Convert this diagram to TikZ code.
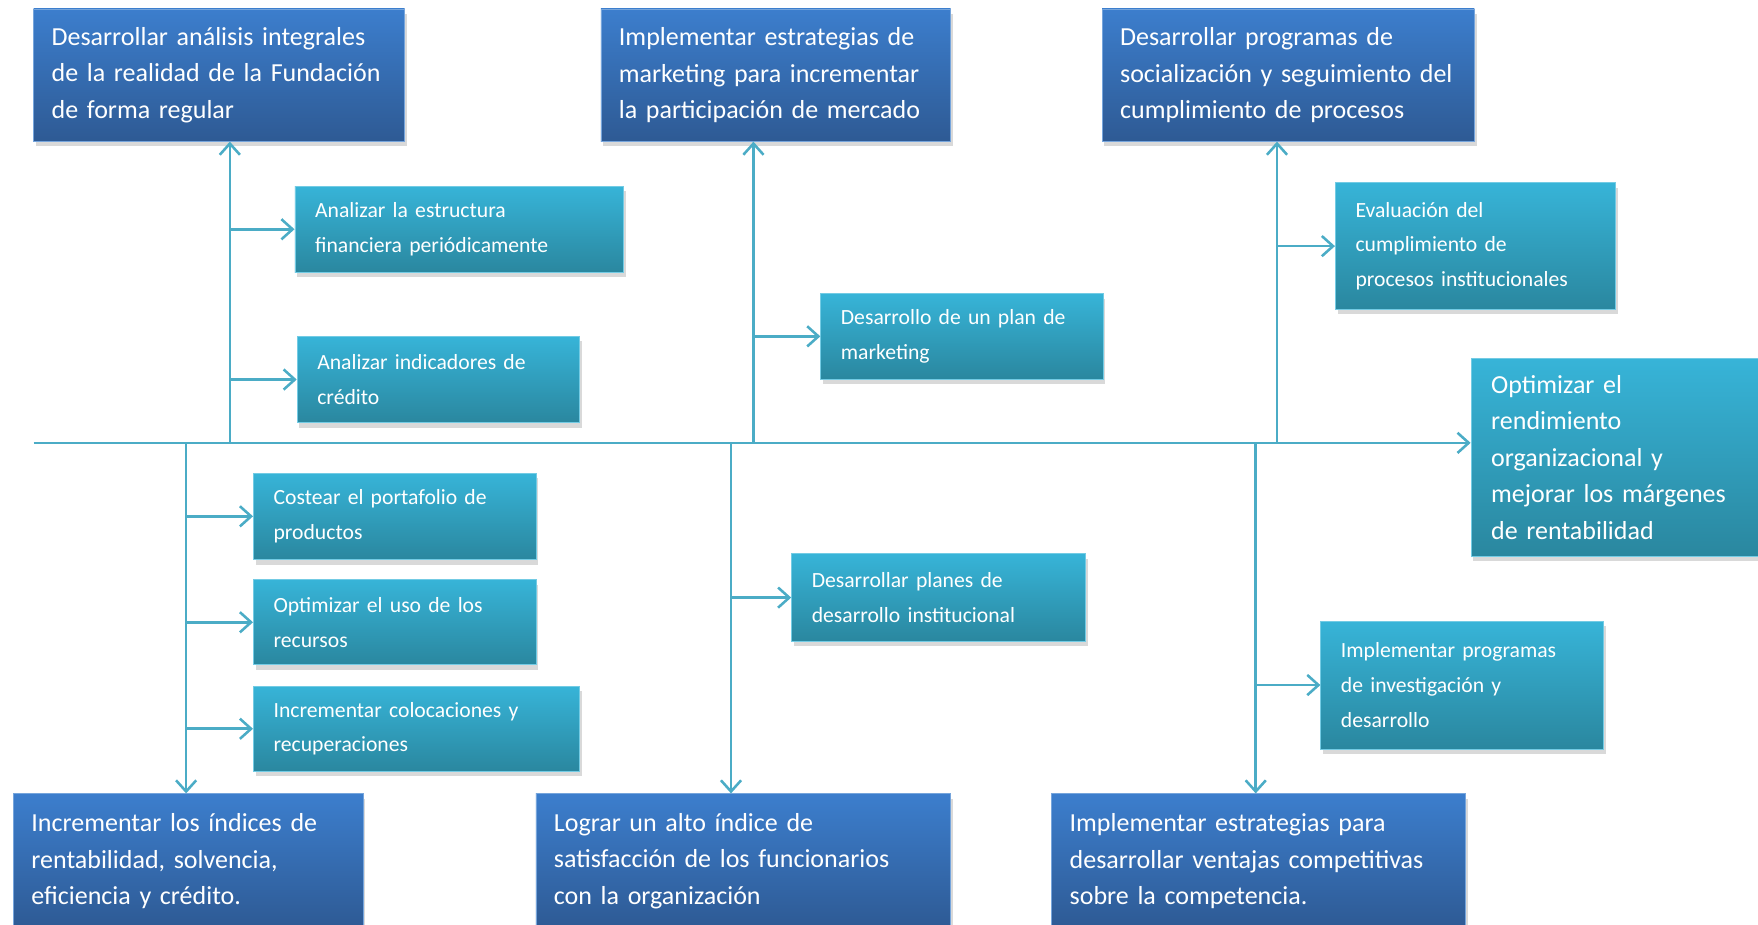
\documentclass[tikz,border=0pt]{standalone}
\usepackage{fontspec}
\setmainfont{Carlito}
\usepackage{tikz}
\usetikzlibrary{arrows.meta, positioning, shadows}
\definecolor{goalTop}{HTML}{3C7ECD}
\definecolor{goalBot}{HTML}{2E5A94}
\definecolor{taskTop}{HTML}{37B4D8}
\definecolor{taskBot}{HTML}{2A879F}
\definecolor{branchLine}{HTML}{4BACC6}

\begin{document}
\begin{tikzpicture}[
  x=0.02cm, y=-0.02cm,
  goal/.style={draw=goalTop!70!white, line width=0.4pt, top color=goalTop, bottom color=goalBot,
               text=white, align=left, inner xsep=0.32cm, inner ysep=0pt,
               font=\fontsize{13.2}{18.5}\selectfont,
               drop shadow={shadow xshift=0.4mm, shadow yshift=-0.9mm, opacity=0.3}},
  task/.style={draw=taskTop!70!white, line width=0.4pt, top color=taskTop, bottom color=taskBot,
               text=white, align=left, inner xsep=0.36cm, inner ysep=0pt,
               font=\fontsize{11}{17.6}\selectfont,
               drop shadow={shadow xshift=0.4mm, shadow yshift=-0.9mm, opacity=0.3}},
  a/.style={-{Straight Barb[length=2mm, width=3.6mm]}, draw=branchLine, line width=1.3pt}
]
\useasboundingbox (0,0) rectangle (1568,825);

\node[goal, minimum width=6.62cm, minimum height=2.36cm, text width=5.98cm] (t1) at (195.5,67)
  {Desarrollar análisis integrales\\de la realidad de la Fundación\\de forma regular};
\node[goal, minimum width=6.24cm, minimum height=2.36cm, text width=5.6cm] (t2) at (692,67)
  {Implementar estrategias de\\marketing para incrementar\\la participación de mercado};
\node[goal, minimum width=6.64cm, minimum height=2.36cm, text width=6.0cm] (t3) at (1149,67)
  {Desarrollar programas de\\socialización y seguimiento del\\cumplimiento de procesos};

\node[goal, minimum width=6.24cm, minimum height=2.4cm, text width=5.6cm] (b1) at (168,768)
  {Incrementar los índices de\\rentabilidad, solvencia,\\eficiencia y crédito.};
\node[goal, minimum width=7.4cm, minimum height=2.4cm, text width=6.76cm] (b2) at (663,768)
  {Lograr un alto índice de\\satisfacción de los funcionarios\\con la organización};
\node[goal, minimum width=7.38cm, minimum height=2.4cm, text width=6.74cm] (b3) at (1122.5,768)
  {Implementar estrategias para\\desarrollar ventajas competitivas\\sobre la competencia.};

\node[task, font=\fontsize{13.2}{18.5}\selectfont, minimum width=5.04cm, minimum height=3.52cm, text width=4.4cm] (eff) at (1440,408)
  {Optimizar el\\rendimiento\\organizacional y\\mejorar los márgenes\\de rentabilidad};

\node[task, minimum width=5.86cm, minimum height=1.54cm, text width=5.14cm] (s1) at (409.5,204.5)
  {Analizar la estructura\\financiera periódicamente};
\node[task, minimum width=5.04cm, minimum height=1.54cm, text width=4.32cm] (s2) at (391,338.5)
  {Analizar indicadores de\\crédito};
\node[task, minimum width=5.04cm, minimum height=1.52cm, text width=4.32cm] (s3) at (858,300)
  {Desarrollo de un plan de\\marketing};
\node[task, minimum width=5.0cm, minimum height=2.26cm, text width=4.28cm] (s4) at (1316,219.5)
  {Evaluación del\\cumplimiento de\\procesos institucionales};
\node[task, minimum width=5.04cm, minimum height=1.54cm, text width=4.32cm] (s5) at (352,460.5)
  {Costear el portafolio de\\productos};
\node[task, minimum width=5.04cm, minimum height=1.52cm, text width=4.32cm] (s6) at (352,555)
  {Optimizar el uso de los\\recursos};
\node[task, minimum width=5.82cm, minimum height=1.52cm, text width=5.1cm] (s7) at (371.5,650)
  {Incrementar colocaciones y\\recuperaciones};
\node[task, minimum width=5.24cm, minimum height=1.56cm, text width=4.52cm] (s8) at (837,533)
  {Desarrollar planes de\\desarrollo institucional};
\node[task, minimum width=5.04cm, minimum height=2.28cm, text width=4.32cm] (s9) at (1304,611)
  {Implementar programas\\de investigación y\\desarrollo};

\coordinate (tail) at (30,395);
\coordinate (up1) at (205,395);
\coordinate (up2) at (672,395);
\coordinate (up3) at (1139,395);
\coordinate (dn1) at (166,395);
\coordinate (dn2) at (652,395);
\coordinate (dn3) at (1120,395);

\draw[a] (tail) -- (tail -| eff.west);
\draw[a] (up1) -- (up1 |- t1.south);
\draw[a] (up2) -- (up2 |- t2.south);
\draw[a] (up3) -- (up3 |- t3.south);
\draw[a] (dn1) -- (dn1 |- b1.north);
\draw[a] (dn2) -- (dn2 |- b2.north);
\draw[a] (dn3) -- (dn3 |- b3.north);

\draw[a] (up1 |- s1.west) -- (s1.west);
\draw[a] (up1 |- s2.west) -- (s2.west);
\draw[a] (up2 |- s3.west) -- (s3.west);
\draw[a] (up3 |- s4.west) -- (s4.west);
\draw[a] (dn1 |- s5.west) -- (s5.west);
\draw[a] (dn1 |- s6.west) -- (s6.west);
\draw[a] (dn1 |- s7.west) -- (s7.west);
\draw[a] (dn2 |- s8.west) -- (s8.west);
\draw[a] (dn3 |- s9.west) -- (s9.west);
\end{tikzpicture}
\end{document}
